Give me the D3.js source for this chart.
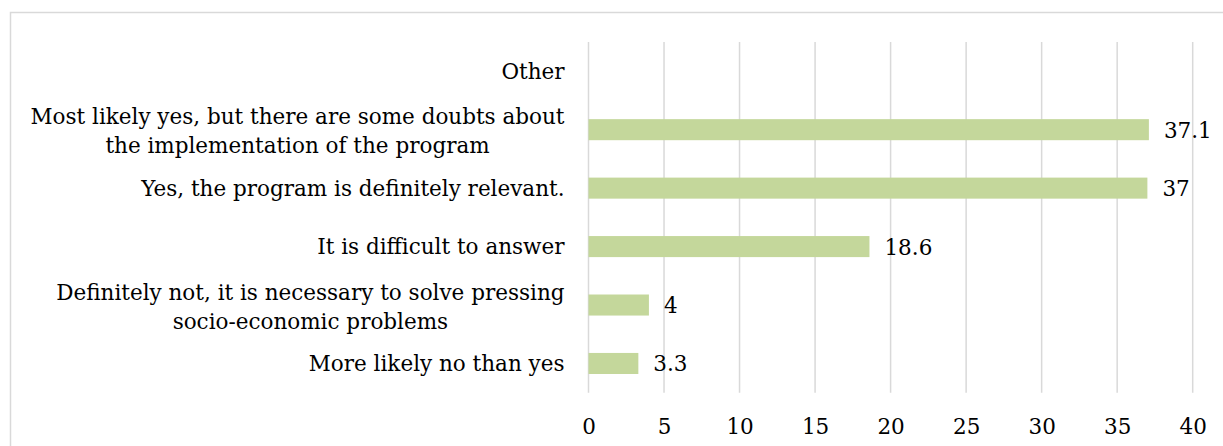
<!DOCTYPE html>
<html>
<head>
<meta charset="utf-8">
<script src="https://cdn.jsdelivr.net/npm/d3@7"></script>
<style>
  html, body { margin: 0; padding: 0; background: #fff; }
  svg { display: block; }
  text { font-family: "DejaVu Serif", "Liberation Serif", serif; fill: #000; }
</style>
</head>
<body>
<svg id="chart" width="1223" height="446"></svg>
<script>
// Survey answers, top to bottom as drawn
const categories = [
  "Other",
  "Most likely yes, but there are some doubts about|the implementation of the program",
  "Yes, the program is definitely relevant.",
  "It is difficult to answer",
  "Definitely not, it is necessary to solve pressing|socio-economic problems",
  "More likely no than yes"
];
// Share of respondents, %; "Other" carries no value
const values = [null, 37.1, 37, 18.6, 4, 3.3];
const tickValues = [0, 5, 10, 15, 20, 25, 30, 35, 40];

const svg = d3.select("#chart");
const W = 1223, H = 446;
const margin = { left: 588.5, right: 30.3, top: 42, bottom: 53.3 };
const fontSize = 21.5;

// Outer chart frame
svg.append("rect")
  .attr("x", 10.5).attr("y", 12.5)
  .attr("width", W + 10).attr("height", H + 10)
  .attr("fill", "#fff").attr("stroke", "#d9d9d9").attr("stroke-width", 1.5);

const x = d3.scaleLinear().domain([0, 40]).range([margin.left, W - margin.right]);
const y = d3.scaleBand().domain(categories)
  .range([margin.top, H - margin.bottom])
  .paddingInner(0.64).paddingOuter(0.32);

// Vertical gridlines
svg.append("g").selectAll("line").data(tickValues).join("line")
  .attr("x1", d => x(d)).attr("x2", d => x(d))
  .attr("y1", margin.top).attr("y2", H - margin.bottom)
  .attr("stroke", "#d9d9d9").attr("stroke-width", 1.5);

// Value axis labels
const xAxis = d3.axisBottom(x).tickValues(tickValues).tickSize(0).tickPadding(0);
const gx = svg.append("g").attr("transform", `translate(0,${H - margin.bottom})`).call(xAxis);
gx.select(".domain").remove();
gx.selectAll("text")
  .attr("y", 0).attr("dy", null)
  .attr("transform", "translate(0,35)")
  .attr("dominant-baseline", "middle")
  .style("font-family", '"DejaVu Serif", serif')
  .style("font-size", fontSize + "px");

// Bars
svg.append("g").selectAll("rect").data(categories.filter((c, i) => values[i] != null)).join("rect")
  .attr("x", x(0))
  .attr("y", d => y(d))
  .attr("width", d => x(values[categories.indexOf(d)]) - x(0))
  .attr("height", y.bandwidth())
  .attr("fill", "#c4d79b");

// Value labels at bar ends
svg.append("g").selectAll("text").data(categories.filter((c, i) => values[i] != null)).join("text")
  .attr("x", d => x(values[categories.indexOf(d)]) + 15)
  .attr("y", d => y(d) + y.bandwidth() / 2 + 2)
  .attr("dominant-baseline", "middle")
  .style("font-size", fontSize + "px")
  .text(d => String(values[categories.indexOf(d)]));

// Category labels: right-aligned block, wrapped lines centred within it
const labelRight = margin.left - 24;
const lineH = 29;
const gl = svg.append("g");
categories.forEach(c => {
  const lines = c.split("|");
  const cy = y(c) + y.bandwidth() / 2 + (lines.length > 1 ? 3 : 1.5);
  const t = gl.append("text").style("font-size", fontSize + "px");
  const spans = lines.map((ln, i) => t.append("tspan").text(ln));
  const widths = spans.map(s => s.node().getComputedTextLength());
  const maxW = d3.max(widths);
  const cx = labelRight - maxW / 2;
  spans.forEach((s, i) => {
    s.attr("x", cx).attr("text-anchor", "middle")
     .attr("y", cy + (i - (lines.length - 1) / 2) * lineH)
     .attr("dominant-baseline", "middle");
  });
});
</script>
</body>
</html>
